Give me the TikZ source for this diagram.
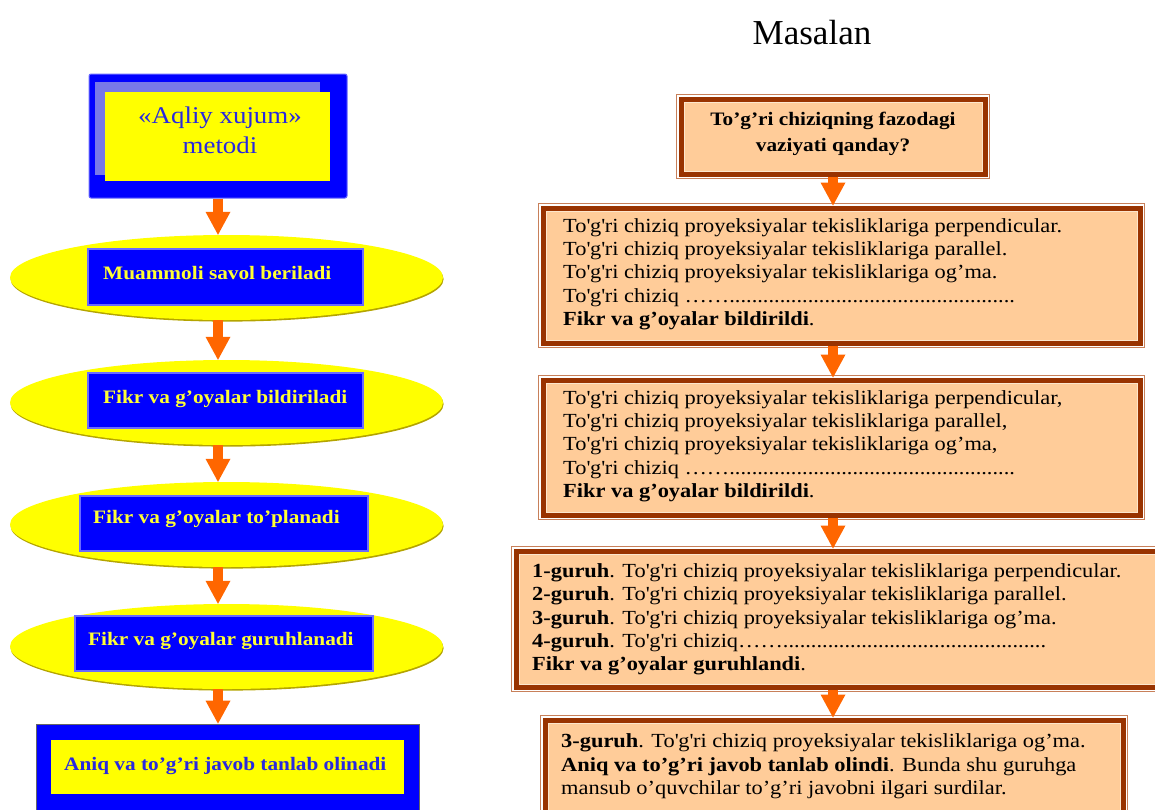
\documentclass[tikz,border=0pt]{standalone}
\usepackage{fontspec}
\setmainfont{Liberation Serif}
\newfontfamily\sr[FakeStretch=1.12]{Liberation Serif}
\usetikzlibrary{fit,shapes.geometric,arrows.meta,calc,shadows}
\definecolor{oran}{HTML}{FF6600}
\definecolor{pblue}{HTML}{0000FF}
\definecolor{lblue}{HTML}{6A6AFF}
\definecolor{pyel}{HTML}{FFFF00}
\definecolor{lav}{HTML}{7878E8}
\definecolor{peach}{HTML}{FFCC99}
\definecolor{brn}{HTML}{993300}
\definecolor{brnl}{HTML}{C8805A}
\definecolor{peachl}{HTML}{FDE6CC}
\definecolor{olive}{HTML}{B4A400}
\definecolor{txtblue}{HTML}{2828E0}
\definecolor{txtyel}{HTML}{FFFF33}
\newcommand\aq{\textquotesingle}
\newcommand\pframe[1]{%
  \draw[draw=brnl, line width=1.2pt] ($(#1.north west)+(-1.9,-1.9)$) rectangle ($(#1.south east)+(1.9,1.9)$);
  \draw[draw=peachl, line width=1pt] ($(#1.north west)+(5.5,5.5)$) rectangle ($(#1.south east)+(-5.5,-5.5)$);
}
\begin{document}
\begin{tikzpicture}[x=1pt,y=-1pt,
  flow/.style={draw=oran, line width=10pt, -{Triangle[width=25pt,length=23pt,line width=0pt]}},
  ell/.style={ellipse, minimum width=433pt, minimum height=85pt, inner sep=0pt, fill=pyel,
    drop shadow={shadow xshift=0.6pt, shadow yshift=-1.6pt, fill=olive, opacity=1}},
  brect/.style={rectangle, inner sep=0pt, fill=pblue, draw=lblue, line width=1.2pt},
  etxt/.style={anchor=base west, inner sep=0pt, text=txtyel, font=\sr\bfseries\fontsize{19}{22}\selectfont},
  pbox/.style={rectangle, inner sep=0pt, fill=peach, draw=brn, line width=5pt, outer sep=2.5pt},
  ptxt/.style={anchor=west, align=left, inner sep=0pt, font=\sr\fontsize{20}{23.3}\selectfont},
]
\useasboundingbox (0,0) rectangle (1155,809);
\clip (0,0) rectangle (1155,809);

% ---------- left column ----------
\node[fit={(89,74)(347,198)}, inner sep=0pt, fill=pblue, draw=lblue, line width=1pt, rounded corners=2pt] (head) {};
\fill[lav] (95,82) rectangle (320,175);
\node[fit={(105,92)(330,181)}, inner sep=0pt, fill=pyel] (headin) {};
\node[anchor=north, align=center, inner sep=0pt, text=txtblue, font=\sr\fontsize{24}{30}\selectfont] (headtxt) at (220,106.5) {«Aqliy xujum»\\metodi};

\node[ell] (e1) at (226.5,277.5) {};
\node[brect, fit={(88,249)(363,305)}] (r1) {};
\node[etxt] (l1) at (103,279) {Muammoli savol beriladi};

\node[ell] (e2) at (226.5,402.5) {};
\node[brect, fit={(88,373)(363,428)}] (r2) {};
\node[etxt] (l2) at (103,403) {Fikr va g’oyalar bildiriladi};

\node[ell] (e3) at (226.5,524.5) {};
\node[brect, fit={(80,496)(368,551)}] (r3) {};
\node[etxt] (l3) at (93,523) {Fikr va g’oyalar to’planadi};

\node[ell] (e4) at (226.5,646.5) {};
\node[brect, fit={(75,616)(373,671)}] (r4) {};
\node[etxt] (l4) at (88,645) {Fikr va g’oyalar guruhlanadi};

\node[fit={(36,724)(419,840)}, inner sep=0pt, fill=pblue, draw=black!60, line width=0.8pt] (fin) {};
\node[fit={(51,740)(404,794)}, inner sep=0pt, fill=pyel] (finin) {};
\node[anchor=base west, inner sep=0pt, text=txtblue, font=\sr\bfseries\fontsize{19}{22}\selectfont] (fintxt) at (64,770) {Aniq va to’g’ri javob tanlab olinadi};

\draw[flow] (head.south) -- (head.south |- e1.north);
\draw[flow] (e1.south -| head.south) -- (head.south |- e2.north);
\draw[flow] (e2.south -| head.south) -- (head.south |- e3.north);
\draw[flow] (e3.south -| head.south) -- (head.south |- e4.north);
\draw[flow] (e4.south -| head.south) -- (head.south |- fin.north);

% ---------- right column ----------
\node[anchor=center, inner sep=0pt, font=\fontsize{35}{40}\selectfont] (title) at (812,33) {Masalan};

\node[pbox, fit={(681,99)(985,174)}] (B1) {};
\node[pbox, fit={(543,208)(1140,343)}] (B2) {};
\node[pbox, fit={(543,380)(1140,515)}] (B3) {};
\node[pbox, fit={(516,551)(1180,687)}] (B4) {};
\node[pbox, fit={(545,720)(1123,850)}] (B5) {};
\pframe{B1}\pframe{B2}\pframe{B3}\pframe{B4}\pframe{B5}

\node[anchor=center, align=center, inner sep=0pt, font=\sr\bfseries\fontsize{19}{26}\selectfont] (t1) at (833,134)
  {To’g’ri chiziqning fazodagi\\vaziyati qanday?};

\node[ptxt] (t2) at (563,274) {%
To\aq g\aq ri chiziq proyeksiyalar tekisliklariga perpendicular.\\
To\aq g\aq ri chiziq proyeksiyalar tekisliklariga parallel.\\
To\aq g\aq ri chiziq proyeksiyalar tekisliklariga og’ma.\\
To\aq g\aq ri chiziq ……...................................................\\
\textbf{Fikr va g’oyalar bildirildi}.};

\node[ptxt] (t3) at (563,446) {%
To\aq g\aq ri chiziq proyeksiyalar tekisliklariga perpendicular,\\
To\aq g\aq ri chiziq proyeksiyalar tekisliklariga parallel,\\
To\aq g\aq ri chiziq proyeksiyalar tekisliklariga og’ma,\\
To\aq g\aq ri chiziq ……...................................................\\
\textbf{Fikr va g’oyalar bildirildi}.};

\node[ptxt] (t4) at (532,619.5) {%
\textbf{1-guruh}. To\aq g\aq ri chiziq proyeksiyalar tekisliklariga perpendicular.\\
\textbf{2-guruh}. To\aq g\aq ri chiziq proyeksiyalar tekisliklariga parallel.\\
\textbf{3-guruh}. To\aq g\aq ri chiziq proyeksiyalar tekisliklariga og’ma.\\
\textbf{4-guruh}. To\aq g\aq ri chiziq……...............................................\\
\textbf{Fikr va g’oyalar guruhlandi}.};

\node[ptxt] (t5) at (561,766.5) {%
\textbf{3-guruh}. To\aq g\aq ri chiziq proyeksiyalar tekisliklariga og’ma.\\
\textbf{Aniq va to’g’ri javob tanlab olindi}. Bunda shu guruhga\\
mansub o’quvchilar to’g’ri javobni ilgari surdilar.};

\draw[flow] (B1.south) -- (B1.south |- B2.north);
\draw[flow] (B2.south -| B1.south) -- (B1.south |- B3.north);
\draw[flow] (B3.south -| B1.south) -- (B1.south |- B4.north);
\draw[flow] (B4.south -| B1.south) -- (B1.south |- B5.north);
\end{tikzpicture}
\end{document}
